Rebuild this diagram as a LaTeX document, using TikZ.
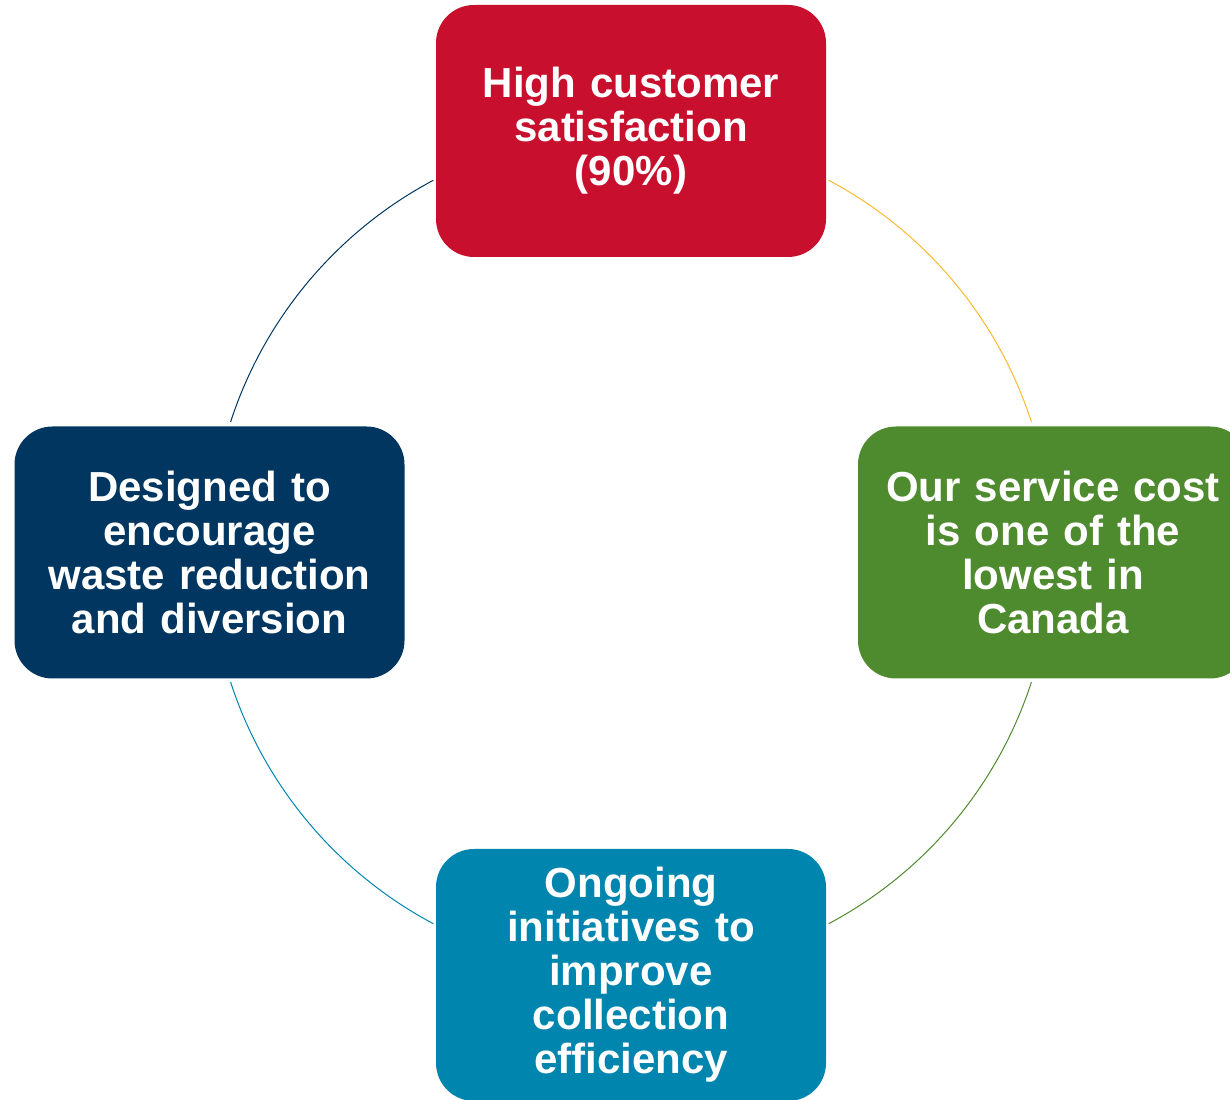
\documentclass[tikz,border=0pt]{standalone}
\usepackage{fontspec}
\setmainfont{Liberation Sans}
\definecolor{cred}{HTML}{C8102E}
\definecolor{cgreen}{HTML}{4E8A2E}
\definecolor{cnavy}{HTML}{003660}
\definecolor{cteal}{HTML}{0086AE}
\definecolor{cyellow}{HTML}{FBBA30}
\begin{document}
\begin{tikzpicture}[x=1pt,y=1pt,
  box/.style={rectangle, rounded corners=38pt, minimum width=390pt, minimum height=252pt,
    text width=375pt, align=center, text=white, inner sep=0pt,
    font=\bfseries\fontsize{42}{44}\selectfont},
  ring/.style={line width=1pt}]
\useasboundingbox (0,0) rectangle (1230,1099);
\coordinate (ctr) at (631,547);
\node[box, fill=cred] (top) at (631,968) {High customer\\satisfaction\\(90\%)};
\node[box, fill=cgreen] (right) at (1053,546.5) {Our service cost\\is one of the\\lowest in\\Canada};
\node[box, fill=cteal] (bottom) at (631,124) {Ongoing\\initiatives to\\improve\\collection\\efficiency};
\node[box, fill=cnavy] (left) at (209.5,546.5) {Designed to\\encourage\\waste reduction\\and diversion};
\draw[ring, cyellow] ([shift={(ctr)}]18:421) arc[start angle=18, end angle=62, radius=421];
\draw[ring, cnavy] ([shift={(ctr)}]118:421) arc[start angle=118, end angle=162, radius=421];
\draw[ring, cteal] ([shift={(ctr)}]198:421) arc[start angle=198, end angle=242, radius=421];
\draw[ring, cgreen] ([shift={(ctr)}]298:421) arc[start angle=298, end angle=342, radius=421];
\end{tikzpicture}
\end{document}
